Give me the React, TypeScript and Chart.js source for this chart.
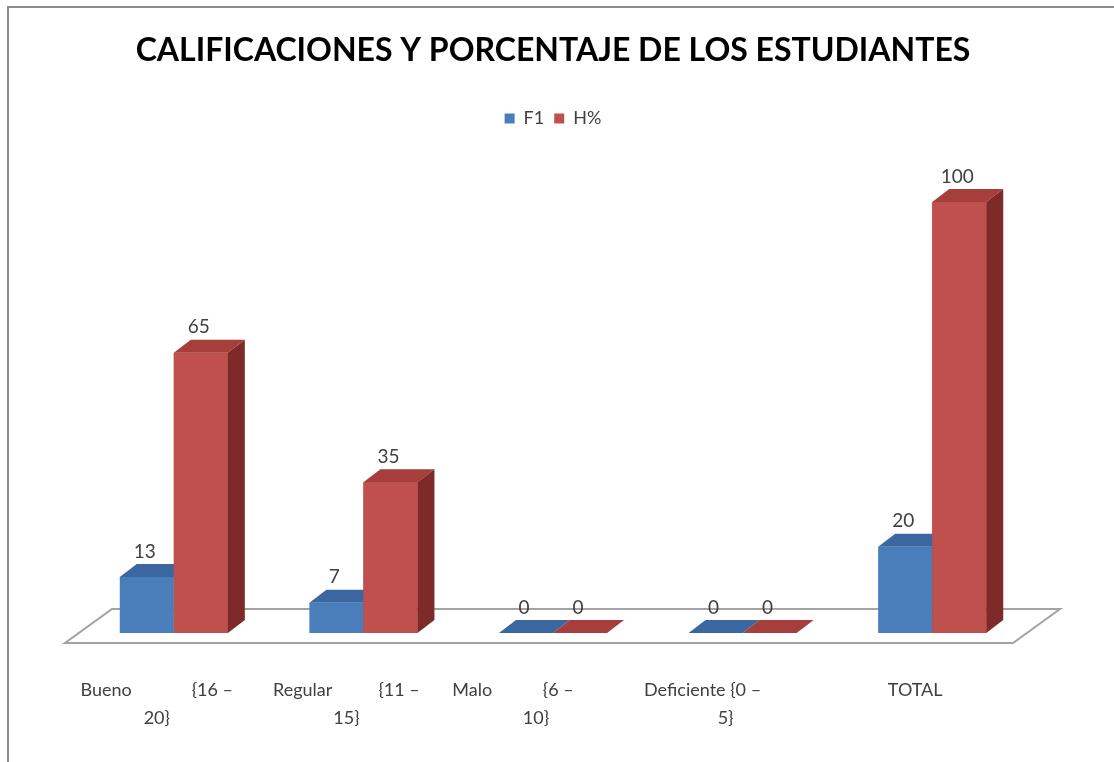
import React, { useEffect, useRef } from "react";
import { Chart, registerables } from "chart.js";

Chart.register(...registerables);

// ---- data ----
const categoryLabels: string[][] = [
  ["Bueno             {16 –", "20}"],
  ["Regular          {11 –", "15}"],
  ["Malo           {6 –          ", "10}"],
  ["Deficiente {0 –          ", "5}"],
  ["TOTAL", ""],
];
const seriesNames = ["F1", "H%"];
const f1Values = [13, 7, 0, 0, 20];
const hValues = [65, 35, 0, 0, 100];
const chartTitle = "CALIFICACIONES Y PORCENTAJE DE LOS ESTUDIANTES";

// ---- styles ----
const FONT = "Lato, 'Noto Sans', sans-serif";
const FRONT = ["#4a7ebb", "#c0504d"];
const TOP = ["#3b67a0", "#a63e3c"];
const SIDE = ["#2f5486", "#7e2a28"];
const DX = 17;
const DY = 13;
const CANVAS_H = 775;

const plugin3d = {
  id: "plugin3d",
  beforeDraw(chart: any) {
    const ctx = chart.ctx;
    ctx.save();
    ctx.fillStyle = "#ffffff";
    ctx.fillRect(0, 0, chart.width, chart.height);
    ctx.strokeStyle = "#8c8c8c";
    ctx.lineWidth = 2;
    ctx.beginPath();
    ctx.moveTo(8, chart.height);
    ctx.lineTo(8, 7);
    ctx.lineTo(chart.width, 7);
    ctx.stroke();
    ctx.restore();
  },
  beforeDatasetsDraw(chart: any) {
    const ctx = chart.ctx;
    const area = chart.chartArea;
    const base = chart.scales.y.getPixelForValue(0);
    const fy = base + 10;
    const by = base - 24;
    const fl = area.left - 14;
    const fr = area.right - 14;
    ctx.save();
    ctx.beginPath();
    ctx.moveTo(fl, fy);
    ctx.lineTo(fr, fy);
    ctx.lineTo(fr + 47, by);
    ctx.lineTo(fl + 47, by);
    ctx.closePath();
    ctx.fillStyle = "#ffffff";
    ctx.fill();
    ctx.strokeStyle = "#a3a3a3";
    ctx.lineWidth = 2;
    ctx.stroke();
    ctx.restore();
  },
  afterDatasetsDraw(chart: any) {
    const ctx = chart.ctx;
    const base = chart.scales.y.getPixelForValue(0);
    const n = chart.data.labels.length;
    ctx.save();
    for (let i = 0; i < n; i++) {
      for (let d = 0; d < 2; d++) {
        const el = chart.getDatasetMeta(d).data[i];
        const p = el.getProps(["x", "y", "width"], true);
        const left = p.x - p.width / 2;
        const right = p.x + p.width / 2;
        const y = p.y;
        if (d === 1 && base - y > 0) {
          ctx.fillStyle = FRONT[d];
          ctx.fillRect(left, y, p.width, base - y);
        }
        // top face
        ctx.beginPath();
        ctx.moveTo(left, y);
        ctx.lineTo(right, y);
        ctx.lineTo(right + DX, y - DY);
        ctx.lineTo(left + DX, y - DY);
        ctx.closePath();
        ctx.fillStyle = TOP[d];
        ctx.fill();
        // side face
        if (base - y > 0) {
          ctx.beginPath();
          ctx.moveTo(right, y);
          ctx.lineTo(right + DX, y - DY);
          ctx.lineTo(right + DX, base - DY);
          ctx.lineTo(right, base);
          ctx.closePath();
          ctx.fillStyle = SIDE[d];
          ctx.fill();
        }
      }
    }
    // value labels
    ctx.font = `19px ${FONT}`;
    ctx.fillStyle = "#404040";
    ctx.textAlign = "center";
    ctx.textBaseline = "bottom";
    for (let d = 0; d < 2; d++) {
      const meta = chart.getDatasetMeta(d);
      const vals = chart.data.datasets[d].data;
      meta.data.forEach((el: any, i: number) => {
        const p = el.getProps(["x", "y"], true);
        ctx.fillText(String(vals[i]), p.x - 2, p.y - DY - 3);
      });
    }
    ctx.restore();
  },
};

export default function App() {
  const ref = useRef<HTMLCanvasElement>(null);
  useEffect(() => {
    if (!ref.current) return;
    const chart = new Chart(ref.current, {
      type: "bar",
      data: {
        labels: categoryLabels,
        datasets: [
          { label: seriesNames[0], data: f1Values, backgroundColor: FRONT[0], borderWidth: 0 },
          { label: seriesNames[1], data: hValues, backgroundColor: FRONT[1], borderWidth: 0 },
        ],
      },
      options: {
        responsive: false,
        animation: false,
        devicePixelRatio: 1,
        layout: { padding: { left: 79, right: 87, top: 20, bottom: 0 } },
        datasets: { bar: { categoryPercentage: 0.57, barPercentage: 1 } },
        plugins: {
          title: {
            display: true,
            text: chartTitle,
            color: "#000000",
            font: { family: FONT, size: 32, weight: "bold" },
            padding: { top: 11, bottom: 30 },
          },
          legend: {
            display: true,
            labels: {
              boxWidth: 10,
              boxHeight: 10,
              color: "#404040",
              font: { family: FONT, size: 18 },
              padding: 10,
            },
          },
          tooltip: { enabled: false },
        },
        scales: {
          x: {
            grid: { display: false, drawTicks: false },
            border: { display: false },
            ticks: {
              color: "#404040",
              font: { family: FONT, size: 18, lineHeight: 1.556 },
              padding: 43,
              labelOffset: -17,
              maxRotation: 0,
              autoSkip: false,
            },
          },
          y: {
            display: false,
            min: 0,
            max: 115,
            grid: { display: false },
          },
        },
      },
      plugins: [plugin3d],
    });
    return () => chart.destroy();
  }, []);
  return (
    <div style={{ position: "fixed", left: 0, top: 0, width: 1114, height: 762, overflow: "hidden" }}>
      <canvas ref={ref} width={1114} height={CANVAS_H} style={{ width: 1114, height: CANVAS_H, display: "block" }} />
    </div>
  );
}
